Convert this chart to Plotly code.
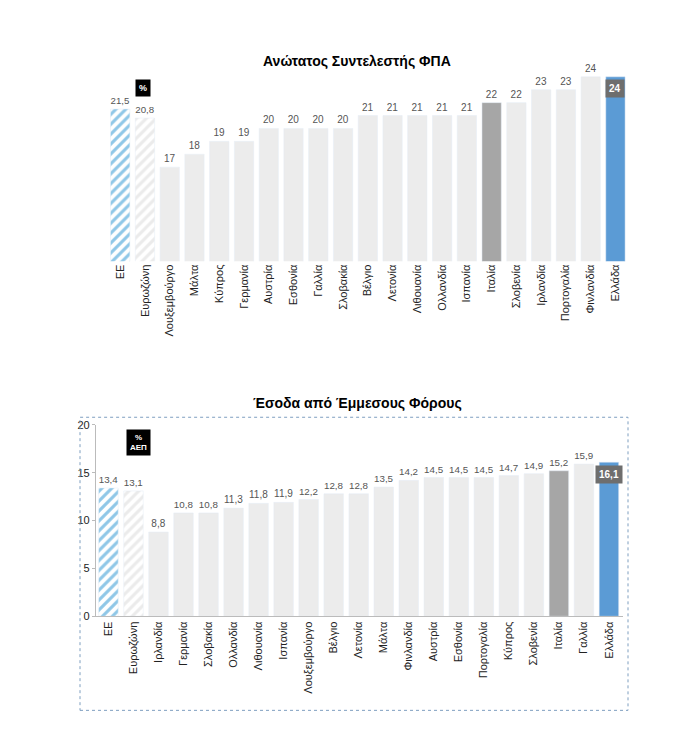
import plotly.graph_objects as go
from plotly.subplots import make_subplots

# Top chart: highest VAT rate
vat_countries = ['ΕΕ', 'Ευρωζώνη', 'Λουξεμβούργο', 'Μάλτα', 'Κύπρος', 'Γερμανία', 'Αυστρία', 'Εσθονία',
                 'Γαλλία', 'Σλοβακία', 'Βέλγιο', 'Λετονία', 'Λιθουανία', 'Ολλανδία', 'Ισπανία', 'Ιταλία',
                 'Σλοβενία', 'Ιρλανδία', 'Πορτογαλία', 'Φινλανδία', 'Ελλάδα']
vat_values = [21.5, 20.8, 17, 18, 19, 19, 20, 20, 20, 20, 21, 21, 21, 21, 21, 22, 22, 23, 23, 24, 24]

# Bottom chart: indirect tax revenue (% GDP)
rev_countries = ['ΕΕ', 'Ευρωζώνη', 'Ιρλανδία', 'Γερμανία', 'Σλοβακία', 'Ολλανδία', 'Λιθουανία', 'Ισπανία',
                 'Λουξεμβούργο', 'Βέλγιο', 'Λετονία', 'Μάλτα', 'Φινλανδία', 'Αυστρία', 'Εσθονία',
                 'Πορτογαλία', 'Κύπρος', 'Σλοβενία', 'Ιταλία', 'Γαλλία', 'Ελλάδα']
rev_values = [13.4, 13.1, 8.8, 10.8, 10.8, 11.3, 11.8, 11.9, 12.2, 12.8, 12.8, 13.5, 14.2, 14.5, 14.5,
              14.5, 14.7, 14.9, 15.2, 15.9, 16.1]

BLUE = '#5b9bd5'
LIGHT = '#ececec'
DARK = '#a6a6a6'


def fmt(v):
    return ('%g' % v).replace('.', ',')


fig = make_subplots(rows=2, cols=1)

for i, (names, vals) in enumerate([(vat_countries, vat_values), (rev_countries, rev_values)]):
    for j, (n, v) in enumerate(zip(names, vals)):
        if n == 'ΕΕ':
            marker = dict(color='white', pattern=dict(shape='/', fgcolor='#1f8fd0', size=7, solidity=0.45))
        elif n == 'Ευρωζώνη':
            marker = dict(color='white', pattern=dict(shape='/', fgcolor='#d8d8d8', size=7, solidity=0.45))
        elif n == 'Ιταλία':
            marker = dict(color=DARK)
        elif n == 'Ελλάδα':
            marker = dict(color=BLUE)
        else:
            marker = dict(color=LIGHT)
        fig.add_trace(go.Bar(x=[n], y=[v], text=['' if n == 'Ελλάδα' else fmt(v)],
                             textposition='outside', textfont=dict(size=10, color='#555'),
                             cliponaxis=False, marker=marker, width=0.78, showlegend=False),
                      row=i + 1, col=1)
    fig.add_annotation(x=names[-1], y=vals[-1], xref='x%s' % ('' if i == 0 else '2'),
                       yref='y%s' % ('' if i == 0 else '2'), text='<b>' + fmt(vals[-1]) + '</b>',
                       yshift=-12, showarrow=False, bgcolor='#6e6e6e', borderpad=3,
                       font=dict(color='white', size=10))

fig.update_layout(
    width=698, height=729, margin=dict(l=0, r=0, t=0, b=0),
    plot_bgcolor='white', paper_bgcolor='white', barmode='overlay',
    font=dict(family='Liberation Sans, Arial', size=11, color='#222'),
    xaxis=dict(domain=[0.143, 0.888], anchor='y', tickangle=-90, showline=False, ticks='',
               categoryorder='array', categoryarray=vat_countries),
    yaxis=dict(domain=[0.655, 0.925], range=[9.7, 24.7], visible=False),
    xaxis2=dict(domain=[0.126, 0.881], anchor='y2', tickangle=-90, showline=True,
                linecolor='#bbb', ticks='', categoryorder='array', categoryarray=rev_countries),
    yaxis2=dict(domain=[0.160, 0.427], range=[0, 20], dtick=5, showgrid=False,
                showline=True, linecolor='#bbb', ticks='outside', ticklen=3, tickcolor='#bbb',
                tickfont=dict(size=11)),
    annotations=list(fig.layout.annotations) + [
        dict(text='<b>Ανώτατος Συντελεστής ΦΠΑ</b>', x=0.5, y=1 - 38 / 729, xref='paper', yref='paper',
             showarrow=False, font=dict(size=14, color='black')),
        dict(text='<b>Έσοδα από Έμμεσους Φόρους</b>', x=0.5, y=1 - 396 / 729, xref='paper', yref='paper',
             showarrow=False, font=dict(size=14, color='black')),
        dict(text='<b>%</b>', x=127 / 698, y=1 - 66 / 729, xref='paper', yref='paper', showarrow=False,
             bgcolor='black', font=dict(color='white', size=9), borderpad=3),
        dict(text='<b>%<br>ΑΕΠ</b>', x=118 / 698, y=1 - 436 / 729, xref='paper', yref='paper', showarrow=False,
             bgcolor='black', font=dict(color='white', size=8), borderpad=3),
    ],
    shapes=[dict(type='rect', xref='paper', yref='paper', x0=72 / 698, x1=620 / 698,
                 y0=1 - 708 / 729, y1=1 - 410 / 729, line=dict(color='#7f9fc0', width=1, dash='dot'))],
)

fig.write_html('out.html')
